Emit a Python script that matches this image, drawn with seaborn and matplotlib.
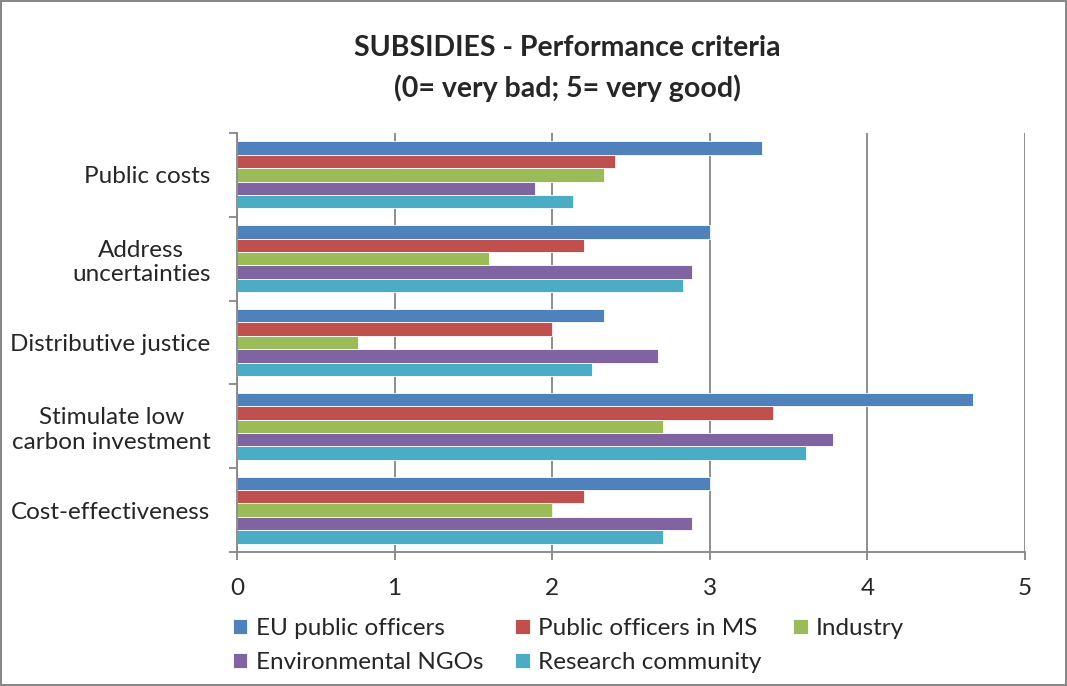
import matplotlib
matplotlib.use("Agg")
import matplotlib.pyplot as plt
import seaborn as sns
import pandas as pd
import numpy as np

categories = ["Public costs", "Address\nuncertainties", "Distributive justice",
              "Stimulate low\ncarbon investment", "Cost-effectiveness"]
series = ["EU public officers", "Public officers in MS", "Industry",
          "Environmental NGOs", "Research community"]
eu_public_officers = [3.33, 3.00, 2.33, 4.67, 3.00]
public_officers_ms = [2.40, 2.20, 2.00, 3.40, 2.20]
industry = [2.33, 1.60, 0.77, 2.70, 2.00]
environmental_ngos = [1.89, 2.89, 2.67, 3.78, 2.89]
research_community = [2.13, 2.83, 2.25, 3.61, 2.70]
x_ticks = [0, 1, 2, 3, 4, 5]
colors = ["#4F81BD", "#C0504D", "#9BBB59", "#8064A2", "#4BACC6"]

values = [eu_public_officers, public_officers_ms, industry, environmental_ngos, research_community]
rows = []
for s, vals in zip(series, values):
    for c, v in zip(categories, vals):
        rows.append({"Criterion": c, "Group": s, "Score": v})
df = pd.DataFrame(rows)

sns.set_theme(style="white")
plt.rcParams['font.family'] = ['Lato', 'DejaVu Sans']

fig = plt.figure(figsize=(10.67, 6.86), dpi=100)
fig.patch.set_edgecolor("#888888")
fig.patch.set_linewidth(1.5)
ax = fig.add_axes([237/1067, 1 - 552/686, (1025 - 237)/1067, (552 - 133)/686])

sns.barplot(data=df, y="Criterion", x="Score", hue="Group", order=categories,
            hue_order=series, palette=colors, orient="h", width=0.8,
            saturation=1, edgecolor="white", linewidth=0.6, ax=ax, legend=True)

ax.set_xlim(0, 5)
ax.set_ylim(len(categories) - 0.5, -0.5)
ax.set_xticks(x_ticks)
ax.set_xticklabels([str(t) for t in x_ticks], fontsize=17.5)
ax.set_xlabel("")
ax.set_ylabel("")
ax.grid(axis="x", color="#868686", linewidth=1.3)
ax.grid(axis="y", visible=False)
ax.set_axisbelow(True)

for sp in ["top", "right"]:
    ax.spines[sp].set_visible(False)
for sp in ["left", "bottom"]:
    ax.spines[sp].set_color("#868686")
    ax.spines[sp].set_linewidth(1.3)

ax.tick_params(axis="x", which="major", length=6, width=1.3, color="#868686",
               pad=13, direction="out", bottom=True)
ax.tick_params(axis="y", which="major", length=0, pad=19, labelsize=17.5)
ax.set_yticks(np.arange(-0.5, len(categories) + 0.5, 1), minor=True)
ax.tick_params(axis="y", which="minor", length=6, width=1.3, color="#868686",
               direction="out", left=True)
for lab in ax.get_yticklabels():
    lab.set_multialignment("center")

leg = ax.get_legend()
handles, labels = ax.get_legend_handles_labels()
leg.remove()
order = [0, 3, 1, 4, 2]
fig.legend([handles[i] for i in order], [labels[i] for i in order], ncol=3,
           loc="upper left", bbox_to_anchor=(211/1067, 1 - 596/686), frameon=False,
           fontsize=17.5, handlelength=0.6, handleheight=0.6,
           handletextpad=0.35, columnspacing=1.3, labelspacing=0.55)

fig.text(567/1067, 1 - 48/686, "SUBSIDIES - Performance criteria",
         ha="center", va="center", fontsize=20.5, fontweight="bold")
fig.text(567/1067, 1 - 88/686, "(0= very bad; 5= very good)",
         ha="center", va="center", fontsize=20.5, fontweight="bold")

fig.savefig("out.png", dpi=100, edgecolor=fig.get_edgecolor())
